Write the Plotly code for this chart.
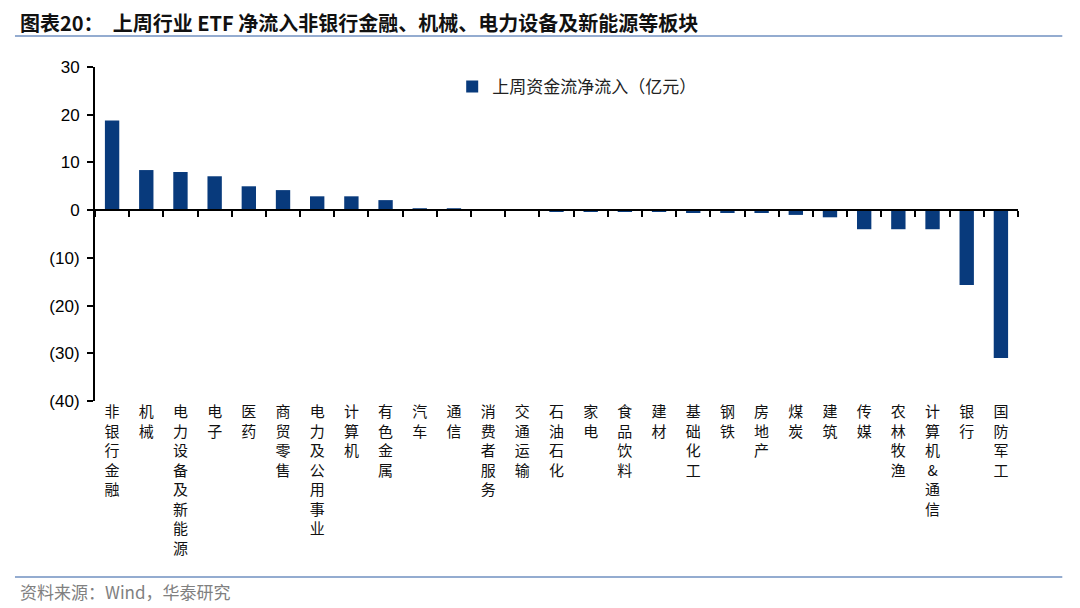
import plotly.graph_objects as go

categories = ["非银行金融", "机械", "电力设备及新能源", "电子", "医药", "商贸零售", "电力及公用事业",
              "计算机", "有色金属", "汽车", "通信", "消费者服务", "交通运输", "石油石化", "家电",
              "食品饮料", "建材", "基础化工", "钢铁", "房地产", "煤炭", "建筑", "传媒", "农林牧渔",
              "计算机&通信", "银行", "国防军工"]
values = [18.8, 8.4, 8.0, 7.1, 5.0, 4.2, 2.9, 2.9, 2.1, 0.4, 0.4, 0.0, -0.1, -0.2, -0.2,
          -0.2, -0.2, -0.6, -0.6, -0.6, -1.0, -1.5, -4.0, -4.0, -4.0, -15.7, -31.0]
y_ticks = [30, 20, 10, 0, -10, -20, -30, -40]
y_labels = ["30", "20", "10", "0", "(10)", "(20)", "(30)", "(40)"]
series_name = "上周资金流净流入（亿元）"
title = "图表20：  上周行业 ETF 净流入非银行金融、机械、电力设备及新能源等板块"
source = "资料来源：Wind，华泰研究"

BAR = "#083a7c"
vert = ["<br>".join(list(c)) for c in categories]
x_idx = list(range(len(categories)))

fig = go.Figure()
fig.add_trace(go.Bar(x=x_idx, y=values, name=series_name, marker_color=BAR,
                     marker_line_width=0, showlegend=True))
# invisible trace to drive the zero-line axis with ticks
fig.add_trace(go.Scatter(x=[-0.5, len(categories) - 0.5], y=[0, 0], xaxis="x2",
                         mode="lines", line=dict(color="black", width=0), showlegend=False,
                         hoverinfo="skip"))

ymin, ymax = -40, 30
fig.update_layout(
    width=1080, height=608,
    paper_bgcolor="white", plot_bgcolor="white",
    margin=dict(l=87, r=70, t=59, b=215),
    font=dict(family="Liberation Sans, Arial, Noto Sans CJK SC", color="black"),
    bargap=0.58,
    xaxis=dict(range=[-0.5, len(categories) - 0.5], tickvals=x_idx, ticktext=vert,
               showline=False, showgrid=False, zeroline=False, ticks="",
               tickfont=dict(family="Noto Sans CJK SC", size=15, color="#111"),
               tickangle=0, automargin=False),
    xaxis2=dict(range=[-0.5, len(categories) - 0.5], overlaying="x", anchor="free",
                position=(0 - ymin) / (ymax - ymin), side="bottom",
                tickvals=[i - 0.5 for i in range(len(categories) + 1)],
                showticklabels=False, ticks="outside", ticklen=6, tickwidth=2,
                tickcolor="black", showline=True, linecolor="black", linewidth=2,
                showgrid=False, zeroline=False),
    yaxis=dict(range=[ymin, ymax], tickvals=y_ticks, ticktext=y_labels,
               showline=True, linecolor="black", linewidth=2, ticks="outside",
               ticklen=6, tickwidth=2, tickcolor="black", showgrid=False, zeroline=False,
               tickfont=dict(size=17, family="Liberation Sans, Arial"), ticklabelstandoff=4,
               automargin=False),
    legend=dict(x=0.387, y=0.94, xanchor="left", yanchor="middle",
                font=dict(family="Noto Sans CJK SC", size=17, color="#222"),
                bgcolor="rgba(0,0,0,0)", itemwidth=30),
    showlegend=True,
)

fig.add_annotation(text="<b>" + title + "</b>", xref="paper", yref="paper",
                   x=-0.083, y=1.133, xanchor="left", yanchor="middle", showarrow=False,
                   font=dict(family="Noto Sans CJK SC", size=20, color="#111"))
fig.add_shape(type="line", xref="paper", yref="paper", x0=-0.0867, x1=1.048,
              y0=1.093, y1=1.093, line=dict(color="#94acd0", width=2))
fig.add_shape(type="line", xref="paper", yref="paper", x0=-0.0867, x1=1.048,
              y0=-0.527, y1=-0.527, line=dict(color="#94acd0", width=2))
fig.add_annotation(text=source, xref="paper", yref="paper", x=-0.083, y=-0.569,
                   xanchor="left", yanchor="middle", showarrow=False,
                   font=dict(family="Noto Sans CJK SC", size=17, color="#808080"))

fig.write_html("out.html")
